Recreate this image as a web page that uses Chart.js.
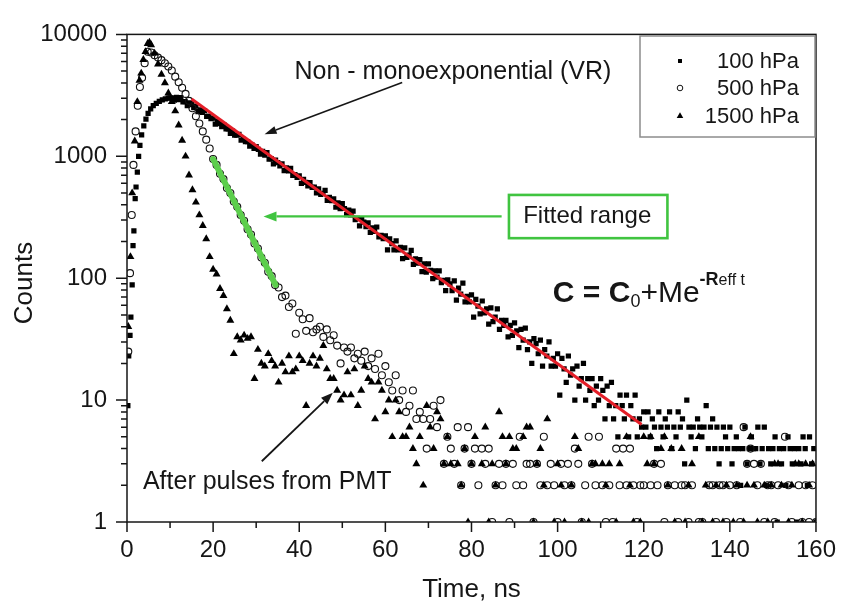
<!DOCTYPE html>
<html>
<head>
<meta charset="utf-8">
<script src="https://cdn.jsdelivr.net/npm/chart.js@4.4.1/dist/chart.umd.min.js"></script>
<style>
html, body { margin: 0; padding: 0; background: #fff; }
#wrap { width: 850px; height: 608px; }
</style>
</head>
<body>
<div id="wrap"><canvas id="c" width="850" height="608"></canvas></div>
<script>
// Axis ticks
const X_TICKS = [0, 20, 40, 60, 80, 100, 120, 140, 160];
const X_MINOR_STEP = 10;
const Y_TICKS = [1, 10, 100, 1000, 10000];

const SERIES_LABELS = ['100 hPa', '500 hPa', '1500 hPa'];

// 100 hPa: rising edge (explicit times), then decay on a 0.5 ns channel grid from 10.5 ns
const p100EdgeT = [0.2, 0.4, 0.7, 0.9, 1.2, 1.4, 1.6, 1.9, 2.1, 2.4, 2.7, 3.0, 3.4, 3.9, 4.4, 4.9, 5.5, 6.1, 6.8, 7.5, 8.2, 8.9, 9.6, 10.0];
const p100EdgeY = [9, 23, 34, 48, 88, 185, 245, 450, 560, 740, 1000, 1230, 1500, 1780, 2020, 2250, 2450, 2600, 2720, 2820, 2900, 2960, 3000, 3010];
const P100_START = 10.5, P100_STEP = 0.5;
const p100Decay = [
  3020, 2890, 3040, 2920, 3030, 2790, 2810, 2610, 2750, 2650,
  2510, 2580, 2330, 2400, 2290, 2370, 2130, 2130, 2040, 2060,
  1840, 1940, 1850, 1750, 1810, 1680, 1680, 1540, 1610, 1490,
  1490, 1510, 1360, 1380, 1320, 1320, 1210, 1240, 1160, 1200,
  1140, 1040, 1100, 1020, 1070, 950, 955, 866, 931, 889,
  834, 868, 763, 802, 759, 797, 698, 707, 671, 691,
  600, 646, 611, 573, 608, 555, 558, 502, 541, 487,
  497, 526, 435, 461, 432, 447, 382, 414, 372, 409,
  373, 332, 362, 331, 355, 303, 309, 269, 306, 288,
  265, 284, 238, 259, 242, 263, 218, 225, 211, 222,
  171, 210, 192, 171, 202, 171, 179, 145, 177, 148,
  155, 169, 130, 144, 133, 142, 113, 131, 112, 131,
  116, 99, 115, 102, 115, 92, 96, 79, 97, 90,
  79, 95, 66, 83, 74, 91, 64, 71, 64, 73,
  48, 67, 59, 51, 65, 52, 56, 42, 57, 44,
  48, 56, 38, 45, 41, 45, 33, 41, 34, 43,
  37, 27, 38, 31, 39, 26, 30, 20, 32, 29,
  24, 31, 19, 26, 23, 30, 19, 22, 19, 24,
  11, 22, 18, 14, 23, 16, 18, 10, 19, 13,
  15, 20, 10, 15, 12, 15, 9, 13, 10, 15,
  12, 7, 13, 9, 14, 7, 9, 5, 11, 9,
  7, 11, 5, 9, 7, 11, 5, 7, 6, 8,
  6, 8, 5, 7, 6, 4, 8, 6, 5, 7,
  6, 8, 4, 6, 5, 8, 6, 7, 3, 10,
  6, 5, 6, 4, 7, 6, 5, 6, 9, 4,
  6, 7, 4, 6, 3, 4, 6, 5, 4, 6,
  3, 4, 5, 4, 2, 4, 6, 3, 4, 5,
  4, 4, 6, 3, 4, 6, 2, 4, 3, 4,
  5, 1, 4, 3, 4, 2, 5, 4, 3, 4,
  1, 4, 3, 5, 4, 2, 5, 3, 4, 1
];

// 500 hPa and 1500 hPa: rising edge, then 0.8 ns channel grid from 5.6 ns (null = empty channel)
const GRID_START = 5.6, GRID_STEP = 0.8;
const p500EdgeT = [0.3, 0.7, 1.1, 1.5, 2.0, 2.5, 3.0, 3.5, 4.1, 4.8];
const p500EdgeY = [25, 110, 330, 850, 1600, 2600, 3700, 4400, 5800, 7200];
const p500Decay = [
  7100, 6750, 6450, 6150, 5800, 5450, 5050, 4500, 4050, 3650,
  3250, 2850, 2480, 2130, 1860, 1600, 1370, 1160, 950, 850,
  720, 650, 550, 500, 425, 385, 330, 296, 252, 228,
  193, 175, 148, 134, 113, 104, 88, 84, 70, 72,
  58, 62, 35, 52, 46, 37, 47, 36, 38, 40,
  33, 38, 31, 34, 28, 20, 27, 25, 27, 22,
  24, 21, 25, 19, 22, 18, 24, 16, 19, 14,
  12, 16, 10, 12, 8, 9, 12, 7, 8, 7,
  4, 7, 9, 6, 10, 3, 5, 4, 3, 6,
  2, 4, 6, 3, 4, 2, 4, 3, 4, 1,
  2, 3, 2, 3, 1, 3, 2, 5, 2, 3,
  3, 1, 3, 2, 5, 2, 3, 2, 1, 3,
  2, 3, 2, 4, 3, 1, 2, 5, 3, 2,
  5, 2, 1, 2, 1, 4, 2, 4, 2, 4,
  2, 1, 2, 2, null, 2, 3, 2, 3, 1,
  2, null, 2, 1, 2, 2, 1, 2, null, 1,
  1, null, 2, 2, 1, 2, 2, 1, 2, null,
  2, 1, 6, 3, 4, 3, 2, 3, 1, 2,
  2, 1, 2, null, 5, 2, 1, null, 2, 1,
  2, 1, 2, 1
];

const p1500EdgeT = [0.3, 0.8, 1.2, 1.8, 2.4, 2.9, 3.3, 3.8, 4.3, 4.8, 5.2];
const p1500EdgeY = [40, 150, 500, 1330, 2800, 4200, 4800, 6200, 7200, 8400, 8600];
const p1500Decay = [
  8200, 7000, 5700, 4700, 4000, 3300, 2800, 2350, 1800, 1350,
  1000, 700, 530, 420, 330, 270, 210, 150, 118, 108,
  82, 72, 56, 45, 24, 33, 31, 34, 32, 33,
  15, 26, 20, 19, 24, 21, 19, 14, 20, 17,
  23, 17, 18, 23, 21, 9, 20, 23, 19, 22,
  28, 18, 15, 15, 12, 10, 11, 17, 11, 18,
  9, 12, 19, 15, 14, 7, 14, 12, 8, 10,
  5, 10, 8, 5, 5, 6, 4, 3, 5, 2,
  9, 6, 4, 8, 7, 3, 5, 3, null, 3,
  2, 4, 1, 3, 5, null, 3, 6, 1, 3,
  2, 8, 5, 3, 5, 4, 4, null, 5, 6,
  6, 1, 3, 4, 2, 7, null, 1, 3, 2,
  1, null, 2, 5, 4, 1, null, 1, 3, 3,
  null, 3, 2, 3, null, 1, 3, null, 5, 2,
  1, null, 1, 5, 3, 5, 3, null, 4, 5,
  2, 4, 1, null, 4, 1, 2, 3, null, 5,
  1, 2, null, 1, 2, null, 1, 2, null, 1,
  2, null, 1, 2, 5, 2, 1, null, 2, 1,
  2, 3, 3, 2, null, 1, 2, 3, 3, 1,
  3, 2, 3, 1
];

// Fitted exponentials (straight lines on the log axis): time (ns) and counts at both ends
const fitVR_T = [15, 119.5];
const fitVR_C = [2950, 6.3];
const fitRange_T = [20, 34.5];
const fitRange_C = [950, 88];

const FONT = '"Liberation Sans", Arial, Helvetica, sans-serif';
const INK = '#161616';

function toPoints(edgeT, edgeY, start, step, values) {
  const pts = edgeT.map((t, i) => ({ x: t, y: edgeY[i] }));
  values.forEach((v, i) => {
    if (v !== null) pts.push({ x: +(start + i * step).toFixed(2), y: v });
  });
  return pts;
}
function pairs(ts, cs) { return ts.map((t, i) => ({ x: t, y: cs[i] })); }

function arrow(ctx, x1, y1, x2, y2, color, lw, headLen, headW) {
  const a = Math.atan2(y2 - y1, x2 - x1);
  const bx = x2 - headLen * Math.cos(a), by = y2 - headLen * Math.sin(a);
  ctx.save();
  ctx.strokeStyle = color; ctx.fillStyle = color; ctx.lineWidth = lw;
  ctx.beginPath(); ctx.moveTo(x1, y1); ctx.lineTo(bx, by); ctx.stroke();
  ctx.beginPath();
  ctx.moveTo(x2, y2);
  ctx.lineTo(bx + headW * Math.sin(a), by - headW * Math.cos(a));
  ctx.lineTo(bx - headW * Math.sin(a), by + headW * Math.cos(a));
  ctx.closePath(); ctx.fill();
  ctx.restore();
}

const decor = {
  id: 'decor',
  afterDraw(chart) {
    const { ctx, chartArea: a, scales: { x, y } } = chart;
    const X = v => x.getPixelForValue(v);
    const Y = v => y.getPixelForValue(v);
    ctx.save();

    // plot frame
    ctx.strokeStyle = INK; ctx.lineWidth = 1.5;
    ctx.strokeRect(a.left, a.top, a.right - a.left, a.bottom - a.top);

    // outward tick marks (major + minor)
    ctx.beginPath();
    for (let v = x.min; v <= x.max; v += X_MINOR_STEP) {
      const len = X_TICKS.includes(v) ? 10 : 6;
      ctx.moveTo(X(v), a.bottom); ctx.lineTo(X(v), a.bottom + len);
    }
    for (const d of Y_TICKS) {
      for (let m = 1; m <= 9; m++) {
        const v = d * m;
        if (v > y.max) break;
        const len = m === 1 ? 11 : 6;
        ctx.moveTo(a.left, Y(v)); ctx.lineTo(a.left - len, Y(v));
      }
    }
    ctx.stroke();

    // axis titles
    ctx.fillStyle = INK;
    ctx.font = '26px ' + FONT;
    ctx.textAlign = 'center'; ctx.textBaseline = 'middle';
    ctx.fillText('Time, ns', (a.left + a.right) / 2, 590);
    ctx.save();
    ctx.translate(25, 283); ctx.rotate(-Math.PI / 2);
    ctx.fillText('Counts', 0, 0);
    ctx.restore();

    // legend
    const lx = 640, ly = 36, lw = 175, lh = 101;
    ctx.strokeStyle = '#8c8c8c'; ctx.lineWidth = 1.5;
    ctx.strokeRect(lx, ly, lw, lh);
    const rows = [61, 88, 116];
    const legendMarks = [
      { pointStyle: 'rect', radius: 2.8, borderWidth: 0, fill: '#000' },
      { pointStyle: 'circle', radius: 2.8, borderWidth: 1, fill: 'rgba(255,255,255,0)' },
      { pointStyle: 'triangle', radius: 3.8, borderWidth: 0, fill: '#000' }
    ];
    ctx.font = '22px ' + FONT;
    ctx.textAlign = 'right'; ctx.textBaseline = 'middle';
    chart.data.datasets.slice(0, 3).forEach((ds, i) => {
      const m = legendMarks[i];
      ctx.fillStyle = m.fill; ctx.strokeStyle = '#111';
      ctx.lineWidth = m.borderWidth || 1;
      Chart.helpers.drawPoint(ctx, { pointStyle: m.pointStyle, radius: m.radius, borderWidth: m.borderWidth, rotation: 0 }, 680, rows[i]);
      ctx.fillStyle = INK;
      ctx.fillText(ds.label, 799, rows[i] + 1);
    });

    // annotations, anchored in data units
    ctx.textAlign = 'left'; ctx.textBaseline = 'alphabetic';
    ctx.fillStyle = INK;
    ctx.font = '25px ' + FONT;
    ctx.fillText('Non - monoexponential (VR)', X(38.9), Y(4270));
    arrow(ctx, X(63.9), Y(4036), X(31.95), Y(1517), INK, 1.6, 12, 4);

    const green = 'rgb(64,196,64)';
    arrow(ctx, X(87.0), Y(321), X(31.7), Y(321), green, 2.2, 13, 5);
    ctx.strokeStyle = green; ctx.lineWidth = 2.6;
    ctx.strokeRect(X(88.7), Y(482), X(125.5) - X(88.7), Y(213) - Y(482));
    ctx.fillStyle = INK;
    ctx.font = '24px ' + FONT;
    ctx.fillText('Fitted range', X(92), Y(282));

    ctx.font = '25px ' + FONT;
    ctx.fillText('After pulses from PMT', X(3.7), Y(1.87));
    arrow(ctx, X(31.3), Y(3.15), X(47.8), Y(11.5), INK, 1.8, 12, 4.5);

    // formula C = C0 + M e^(-Reff t)
    const parts = [
      { t: 'C = C', f: 'bold 30px ' + FONT, dy: 0 },
      { t: '0', f: '18px ' + FONT, dy: 5 },
      { t: '+Me', f: '30px ' + FONT, dy: 0 },
      { t: '-R', f: 'bold 18px ' + FONT, dy: -17 },
      { t: 'eff t', f: '16px ' + FONT, dy: -17 }
    ];
    let fx = X(98.9);
    const fb = Y(64);
    for (const p of parts) {
      ctx.font = p.f;
      ctx.fillText(p.t, fx, fb + p.dy);
      fx += ctx.measureText(p.t).width;
    }
    ctx.restore();
  }
};

new Chart(document.getElementById('c'), {
  type: 'scatter',
  data: {
    datasets: [
      {
        label: SERIES_LABELS[0],
        data: toPoints(p100EdgeT, p100EdgeY, P100_START, P100_STEP, p100Decay),
        pointStyle: 'rect', pointRadius: 3.7, pointHoverRadius: 3.7,
        backgroundColor: '#000', borderColor: '#000', borderWidth: 0,
        order: 3, clip: 0
      },
      {
        label: SERIES_LABELS[1],
        data: toPoints(p500EdgeT, p500EdgeY, GRID_START, GRID_STEP, p500Decay),
        pointStyle: 'circle', pointRadius: 3.5, pointHoverRadius: 3.5,
        backgroundColor: 'rgba(255,255,255,0)', borderColor: '#111', borderWidth: 1.1,
        order: 2, clip: 0
      },
      {
        label: SERIES_LABELS[2],
        data: toPoints(p1500EdgeT, p1500EdgeY, GRID_START, GRID_STEP, p1500Decay),
        pointStyle: 'triangle', pointRadius: 4.6, pointHoverRadius: 4.6,
        backgroundColor: '#000', borderColor: '#000', borderWidth: 0,
        order: 1, clip: 0
      },
      {
        label: 'VR fit',
        data: pairs(fitVR_T, fitVR_C),
        showLine: true, borderColor: 'rgb(228,30,40)', borderWidth: 3,
        pointRadius: 0, order: 0
      },
      {
        label: 'Fitted range',
        data: pairs(fitRange_T, fitRange_C),
        showLine: true, borderColor: 'rgb(92,206,76)', borderWidth: 6,
        borderCapStyle: 'round', pointRadius: 0, order: 0
      }
    ]
  },
  options: {
    responsive: false,
    animation: false,
    devicePixelRatio: 1,
    layout: { padding: { top: 24, right: 27, left: 0, bottom: 0 } },
    plugins: { legend: { display: false }, tooltip: { enabled: false } },
    scales: {
      x: {
        type: 'linear', min: 0, max: 160,
        afterBuildTicks: s => { s.ticks = X_TICKS.map(v => ({ value: v })); },
        afterFit: s => { s.height = 86; },
        grid: { display: false, drawTicks: false },
        border: { display: false },
        ticks: { color: INK, font: { family: FONT, size: 24 }, padding: 14, maxRotation: 0, autoSkip: false }
      },
      y: {
        type: 'logarithmic', min: 1, max: 10000,
        afterBuildTicks: s => { s.ticks = Y_TICKS.map(v => ({ value: v })); },
        afterFit: s => { s.width = 127; },
        grid: { display: false, drawTicks: false },
        border: { display: false },
        ticks: { color: INK, font: { family: FONT, size: 24 }, padding: 20, autoSkip: false, callback: v => String(v) }
      }
    }
  },
  plugins: [decor]
});
</script>
</body>
</html>
